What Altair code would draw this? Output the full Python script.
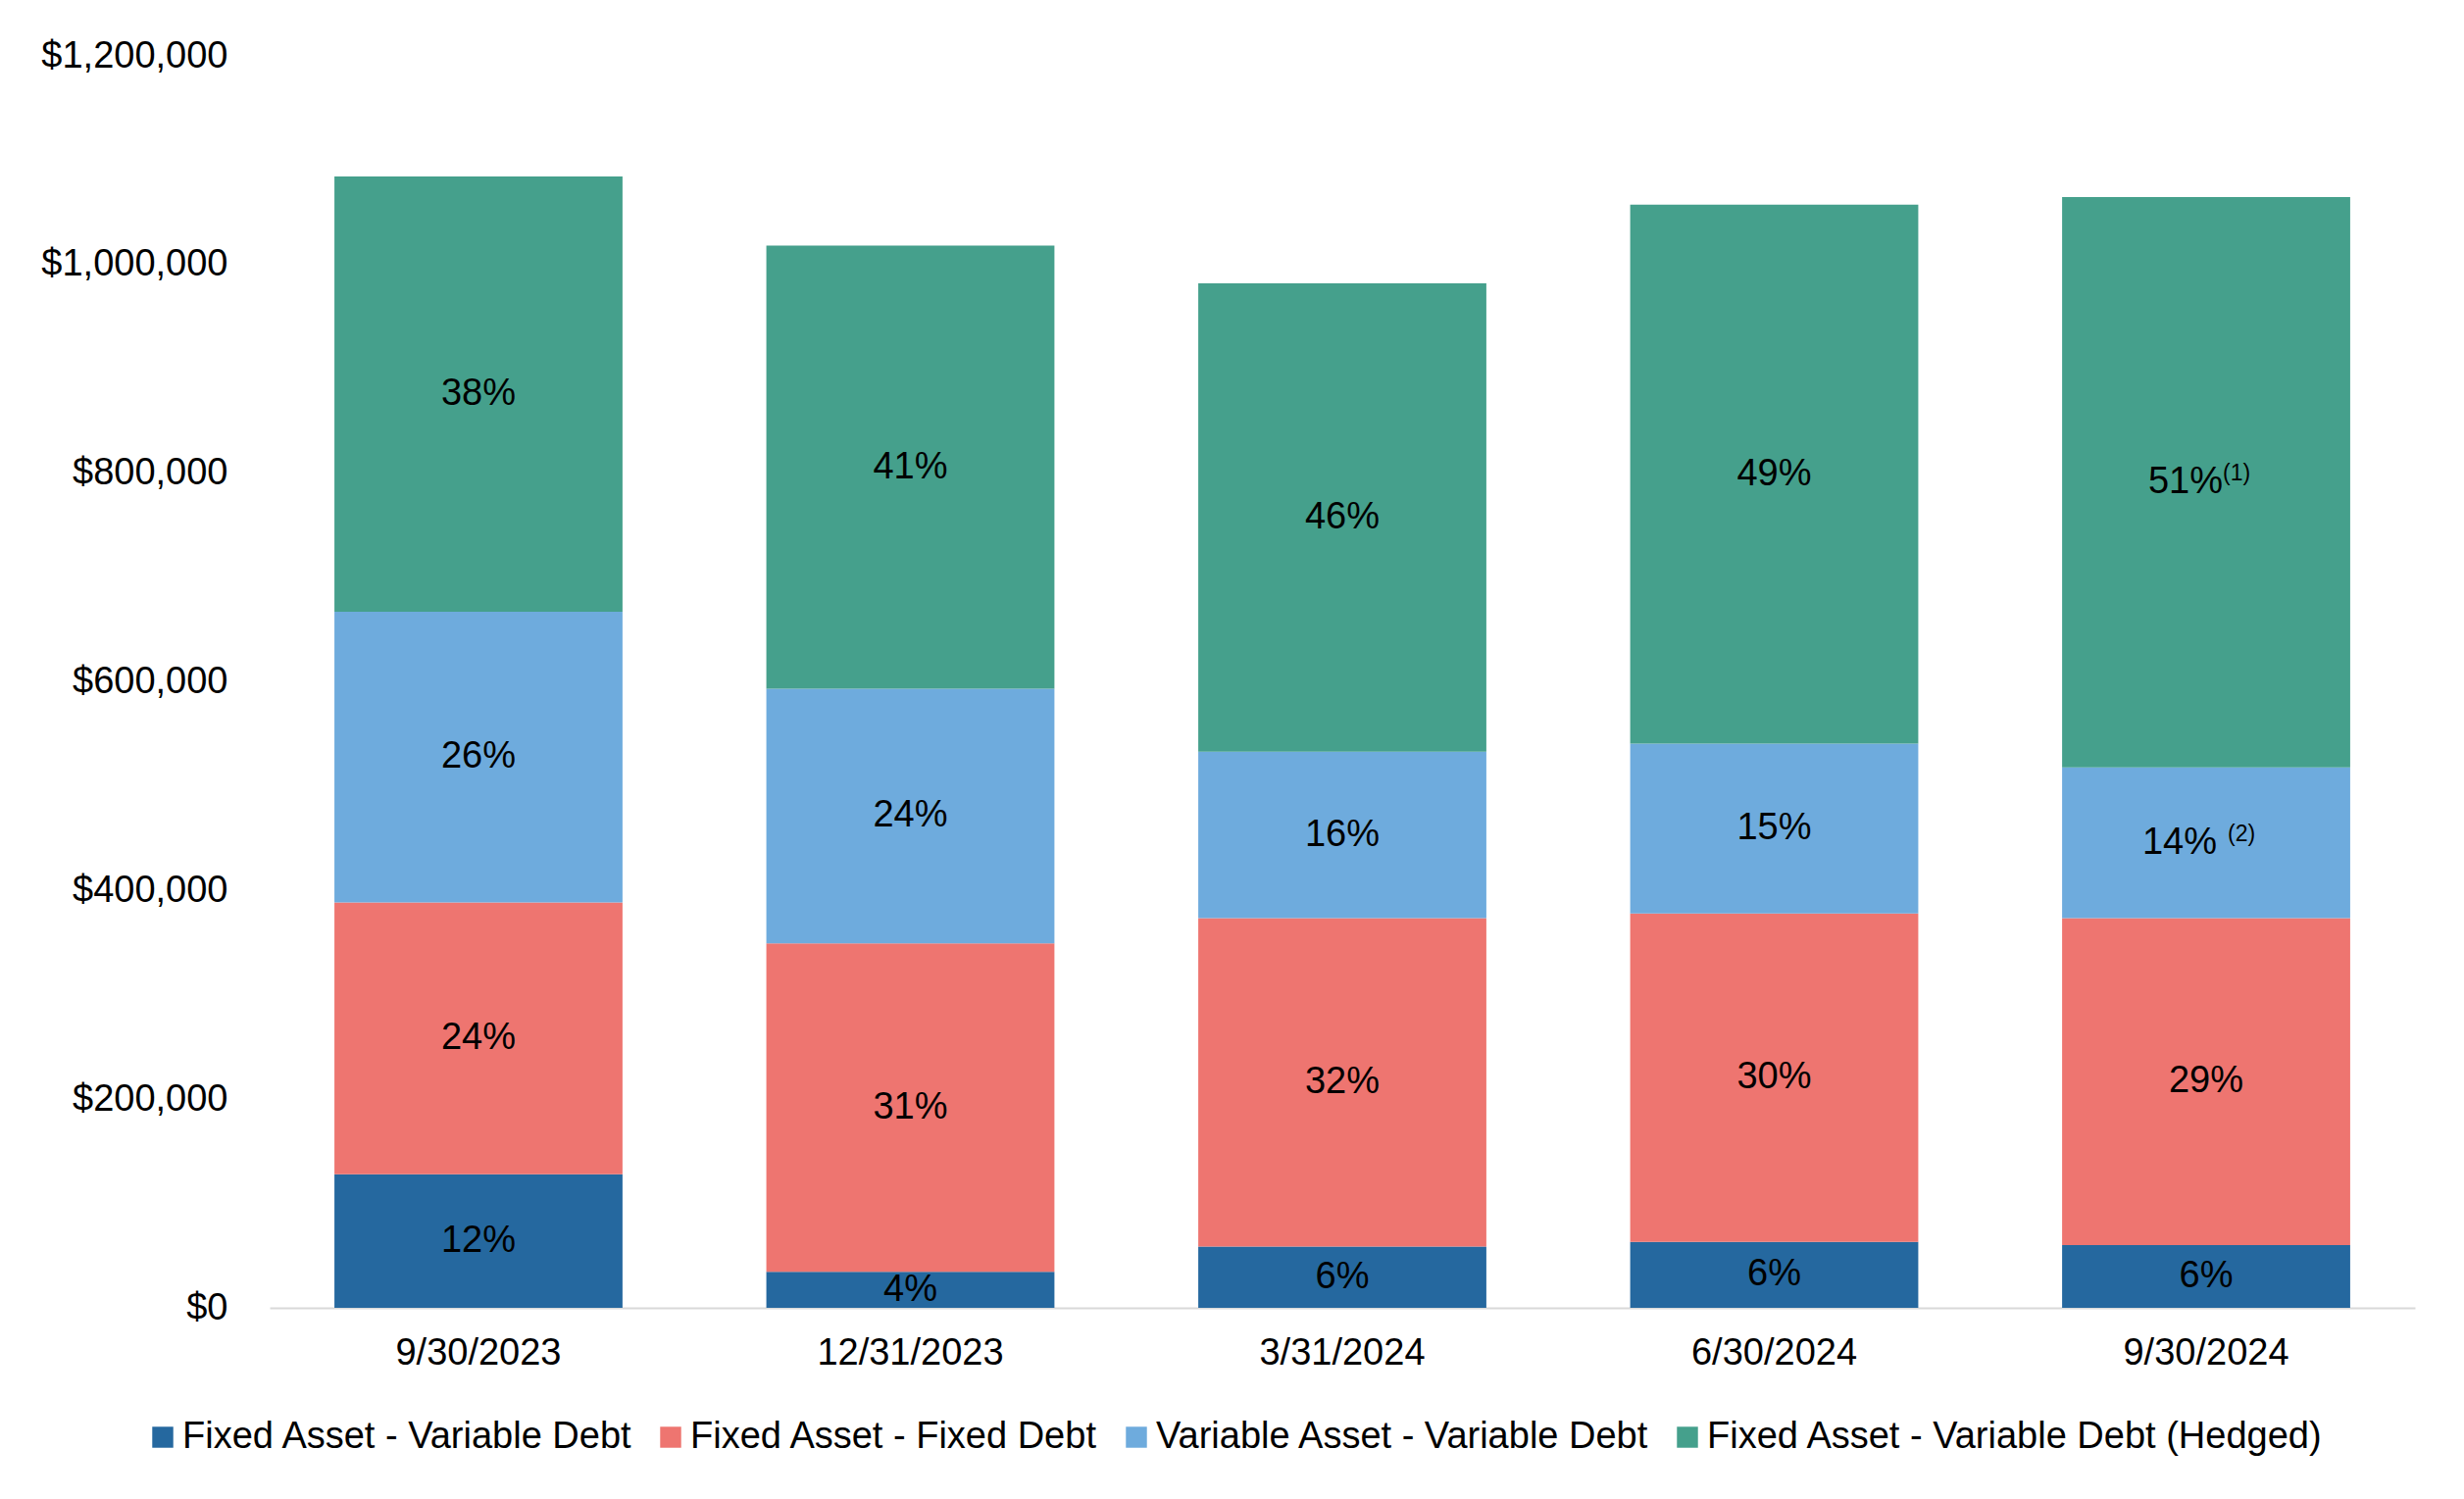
import altair as alt
import pandas as pd

dates = ["9/30/2023", "12/31/2023", "3/31/2024", "6/30/2024", "9/30/2024"]
series = [
    "Fixed Asset - Variable Debt",
    "Fixed Asset - Fixed Debt",
    "Variable Asset - Variable Debt",
    "Fixed Asset - Variable Debt (Hedged)",
]
colors = ["#25689f", "#ee7570", "#6eabdd", "#45a08c"]

fa_vd = [128000, 34600, 58700, 63300, 60200]
fa_fd = [260500, 314800, 314800, 314800, 313300]
va_vd = [278600, 244000, 159600, 162700, 144600]
fa_vd_h = [417200, 424700, 448800, 516600, 546700]

lbl_fa_vd = ["12%", "4%", "6%", "6%", "6%"]
lbl_fa_fd = ["24%", "31%", "32%", "30%", "29%"]
lbl_va_vd = ["26%", "24%", "16%", "15%", "14%"]
lbl_fa_vd_h = ["38%", "41%", "46%", "49%", "51%"]

note_va_vd = ["", "", "", "", "(2)"]
note_fa_vd_h = ["", "", "", "", "(1)"]
blank = ["", "", "", "", ""]

rows = []
for si, (vals, lbls, notes) in enumerate([
    (fa_vd, lbl_fa_vd, blank),
    (fa_fd, lbl_fa_fd, blank),
    (va_vd, lbl_va_vd, note_va_vd),
    (fa_vd_h, lbl_fa_vd_h, note_fa_vd_h),
]):
    for di, d in enumerate(dates):
        rows.append({"date": d, "series": series[si], "order": si,
                     "value": vals[di], "label": lbls[di], "note": notes[di]})
df = pd.DataFrame(rows)

FONT = "Liberation Sans"
FS = 38

base = alt.Chart(df).transform_stack(
    stack="value", groupby=["date"], as_=["y0", "y1"],
    sort=[alt.SortField("order", order="ascending")]
).transform_calculate(mid="(datum.y0 + datum.y1) / 2")

x_enc = alt.X("date:N", sort=dates, title=None,
              scale=alt.Scale(paddingInner=0.333, paddingOuter=0.15),
              axis=alt.Axis(labelAngle=0, labelFont=FONT, labelFontSize=FS,
                            labelColor="#000000", labelPadding=27, labelLimit=0,
                            domainColor="#d9d9d9", domainWidth=2,
                            ticks=False, tickSize=0, grid=False))

bars = base.mark_bar().encode(
    x=x_enc,
    y=alt.Y("y0:Q", title=None,
            scale=alt.Scale(domain=[0, 1200000], nice=False),
            axis=alt.Axis(values=[0, 200000, 400000, 600000, 800000, 1000000, 1200000],
                          format="$,.0f", labelFont=FONT, labelFontSize=FS,
                          labelColor="#000000", labelPadding=43, labelLimit=0,
                          domain=False, ticks=False, tickSize=0, grid=False)),
    y2="y1:Q",
    color=alt.Color("series:N", scale=alt.Scale(domain=series, range=colors),
                    sort=series,
                    legend=alt.Legend(title=None, orient="none", direction="horizontal",
                                      legendX=-128, legendY=1390,
                                      symbolType="square", symbolSize=460,
                                      symbolStrokeWidth=0,
                                      labelFont=FONT, labelFontSize=FS,
                                      labelColor="#000000", labelOffset=1,
                                      columnPadding=19, labelLimit=0)),
)

txt_plain = base.transform_filter("datum.note == ''").mark_text(
    font=FONT, fontSize=FS, color="#000000", align="center", baseline="middle"
).encode(x=alt.X("date:N", sort=dates), y="mid:Q", text="label:N")

txt_n1 = base.transform_filter("datum.note == '(1)'").mark_text(
    font=FONT, fontSize=FS, color="#000000", align="center", baseline="middle", dx=-21
).encode(x=alt.X("date:N", sort=dates), y="mid:Q", text="label:N")
sup_n1 = base.transform_filter("datum.note == '(1)'").mark_text(
    font=FONT, fontSize=23, color="#000000", align="left", baseline="middle", dx=17, dy=-9
).encode(x=alt.X("date:N", sort=dates), y="mid:Q", text="note:N")

txt_n2 = base.transform_filter("datum.note == '(2)'").mark_text(
    font=FONT, fontSize=FS, color="#000000", align="center", baseline="middle", dx=-27
).encode(x=alt.X("date:N", sort=dates), y="mid:Q", text="label:N")
sup_n2 = base.transform_filter("datum.note == '(2)'").mark_text(
    font=FONT, fontSize=23, color="#000000", align="left", baseline="middle", dx=22, dy=-9
).encode(x=alt.X("date:N", sort=dates), y="mid:Q", text="note:N")

chart = alt.layer(bars, txt_plain, txt_n1, sup_n1, txt_n2, sup_n2).properties(
    width=2188, height=1277,
    padding={"top": 30, "left": 33, "right": 10, "bottom": 5},
    background="#ffffff",
).configure_view(stroke=None)

chart.save("out.html", embed_options={"renderer": "svg", "actions": False})
